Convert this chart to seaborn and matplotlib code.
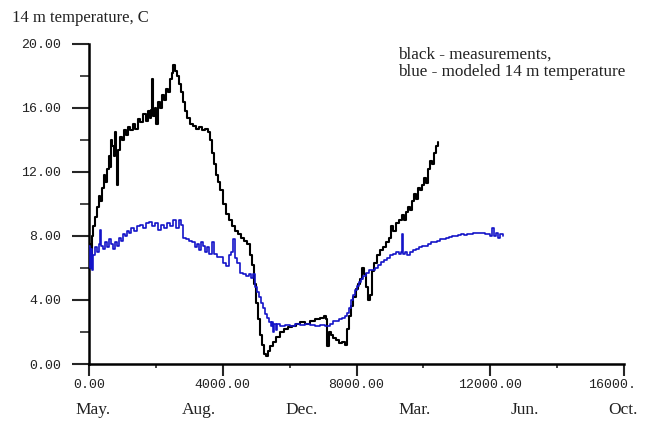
import matplotlib
matplotlib.use("Agg")
import matplotlib.pyplot as plt
from matplotlib.ticker import FixedLocator
from matplotlib.transforms import ScaledTranslation
import seaborn as sns
import pandas as pd

# ---------------- data ----------------
meas_hours = [0, 30, 60, 90, 120, 180, 240, 300, 330, 390, 450, 480, 540, 600, 630, 660, 690,
              750, 780, 810, 840, 870, 930, 990, 1050, 1110, 1170, 1230, 1320, 1380, 1470, 1530,
              1620, 1710, 1770, 1830, 1860, 1890, 1920, 1980, 2010, 2070, 2130, 2190, 2250, 2310,
              2370, 2430, 2490, 2520, 2570, 2630, 2690, 2750, 2810, 2870, 2930, 3020, 3110, 3200,
              3290, 3380, 3470, 3560, 3620, 3680, 3740, 3800, 3860, 3920, 4010, 4100, 4190, 4280,
              4370, 4460, 4550, 4630, 4720, 4810, 4870, 4930, 4990, 5050, 5110, 5170, 5230, 5290,
              5350, 5410, 5500, 5590, 5710, 5830, 5950, 6070, 6190, 6310, 6460, 6610, 6760, 6910,
              7030, 7090, 7120, 7180, 7240, 7300, 7390, 7480, 7570, 7650, 7710, 7770, 7830, 7890,
              7980, 8040, 8100, 8160, 8220, 8280, 8340, 8400, 8460, 8520, 8610, 8700, 8790, 8880,
              8970, 9030, 9090, 9180, 9270, 9360, 9420, 9480, 9540, 9600, 9660, 9720, 9780, 9840,
              9900, 9960, 10020, 10080, 10140, 10200, 10260, 10320, 10380, 10440]
meas_temp = [6.0, 7.5, 6.8, 8.0, 8.6, 9.2, 9.8, 10.5, 10.2, 11.0, 11.8, 11.4, 12.2, 13.0, 12.3, 14.0, 13.6,
             13.0, 14.5, 13.2, 11.2, 13.4, 14.2, 14.0, 14.6, 14.3, 14.8, 14.6, 15.0, 14.7, 15.3, 15.1,
             15.6, 15.2, 15.8, 15.4, 15.9, 17.8, 15.5, 16.0, 15.0, 16.4, 16.0, 16.8, 16.5, 17.2,
             17.0, 17.8, 18.2, 18.7, 18.3, 18.0, 17.5, 17.0, 16.4, 15.8, 15.4, 15.0, 14.9, 14.7,
             14.8, 14.6, 14.7, 14.5, 14.0, 13.2, 12.5, 11.8, 11.4, 10.9, 10.0, 9.4, 9.0, 8.6,
             8.3, 8.1, 7.9, 7.7, 7.5, 6.8, 6.2, 5.0, 3.8, 2.8, 1.8, 1.2, 0.6, 0.5,
             0.8, 1.1, 1.4, 1.7, 2.0, 2.2, 2.3, 2.4, 2.5, 2.6, 2.5, 2.7, 2.8, 2.9,
             3.0, 2.8, 1.1, 2.0, 1.8, 1.6, 1.5, 1.3, 1.4, 1.2, 2.2, 3.0, 3.6, 4.2,
             4.7, 5.0, 5.3, 6.0, 5.6, 4.8, 4.0, 4.3, 5.8, 6.3, 6.8, 7.1, 7.3, 7.6,
             7.9, 8.6, 8.3, 8.8, 9.0, 9.3, 9.0, 9.5, 9.8, 9.6, 10.2, 10.6, 10.3, 11.0,
             10.9, 11.2, 11.6, 11.3, 12.2, 12.7, 12.5, 13.2, 13.6, 13.9]

model_hours = [0, 30, 60, 90, 120, 180, 240, 300, 330, 360, 420, 480, 540, 600, 660, 720, 780, 840,
               900, 960, 1020, 1080, 1140, 1200, 1260, 1350, 1440, 1530, 1620, 1710, 1800, 1890,
               1980, 2070, 2160, 2250, 2340, 2430, 2520, 2610, 2700, 2750, 2810, 2900, 2990, 3080,
               3170, 3230, 3290, 3350, 3410, 3470, 3530, 3590, 3680, 3740, 3830, 3920, 4010, 4100,
               4190, 4250, 4310, 4370, 4430, 4520, 4610, 4700, 4780, 4840, 4900, 4960, 5020, 5080,
               5140, 5200, 5260, 5320, 5380, 5440, 5470, 5500, 5530, 5590, 5620, 5710, 5860, 6010,
               6160, 6310, 6460, 6610, 6760, 6910, 7060, 7210, 7300, 7390, 7480, 7570, 7650, 7710,
               7770, 7830, 7890, 7950, 8010, 8070, 8130, 8190, 8280, 8370, 8460, 8550, 8640, 8730,
               8820, 8910, 9000, 9090, 9180, 9270, 9330, 9360, 9390, 9450, 9510, 9600, 9690, 9780,
               9870, 9960, 10050, 10140, 10230, 10320, 10410, 10500, 10590, 10680, 10770, 10860,
               10950, 11040, 11130, 11220, 11310, 11400, 11480, 11570, 11660, 11750, 11840, 11930,
               11990, 12050, 12110, 12170, 12230, 12290, 12380]
model_temp = [7.4, 6.0, 7.2, 5.9, 6.8, 7.3, 7.0, 7.5, 8.4, 7.4, 7.2, 7.6, 7.3, 7.8, 7.5, 7.2, 7.6, 7.4,
              7.9, 7.7, 8.1, 8.0, 8.3, 8.2, 8.5, 8.3, 8.6, 8.7, 8.5, 8.8, 8.9, 8.6,
              8.8, 8.4, 8.7, 8.5, 8.8, 8.6, 9.0, 8.5, 9.0, 8.7, 7.9, 7.8, 7.7, 7.6,
              7.3, 7.5, 7.1, 7.6, 7.4, 7.0, 7.3, 6.9, 7.6, 6.9, 6.7, 6.7, 6.3, 6.1,
              6.8, 7.0, 7.8, 6.6, 6.3, 5.7, 5.6, 5.5, 5.6, 5.4, 5.6, 4.8, 4.5, 4.2,
              3.8, 3.5, 3.1, 2.9, 2.6, 2.4, 2.6, 2.0, 2.5, 2.1, 2.5, 2.4, 2.45, 2.4,
              2.5, 2.45, 2.5, 2.45, 2.4, 2.45, 2.4, 2.5, 2.7, 2.7, 2.8, 2.9, 3.0, 3.2,
              3.5, 4.0, 4.3, 4.6, 4.9, 5.1, 5.3, 5.5, 5.7, 5.9, 5.9, 6.0, 6.2, 6.4,
              6.5, 6.6, 6.8, 6.9, 7.0, 6.9, 7.0, 8.1, 6.9, 7.0, 6.8, 7.0, 7.1, 7.2,
              7.3, 7.35, 7.4, 7.5, 7.6, 7.6, 7.7, 7.8, 7.8, 7.9, 7.95, 8.0,
              8.0, 8.05, 8.1, 8.05, 8.1, 8.15, 8.2, 8.2, 8.2, 8.2, 8.15, 8.15,
              8.0, 8.5, 8.0, 8.2, 7.9, 8.1, 8.0]

x_ticks = [0, 4000, 8000, 12000, 16000]
x_ticklabels = ["0.00", "4000.00", "8000.00", "12000.00", "16000."]
x_minor = [2000, 6000, 10000, 14000]
y_ticks = [0, 4, 8, 12, 16, 20]
y_ticklabels = ["0.00", "4.00", "8.00", "12.00", "16.00", "20.00"]
y_minor = [2, 6, 10, 14, 18]
month_labels = ["May.", "Aug.", "Dec.", "Mar.", "Jun.", "Oct."]
month_hours = [120, 3290, 6370, 9750, 13040, 15970]

title_text = "14 m temperature, C"
note_text = "black - measurements,\nblue - modeled 14 m temperature"

# ---------------- figure ----------------
sns.set_style("white")
plt.rcParams["font.family"] = ["Liberation Serif", "DejaVu Sans"]

fig = plt.figure(figsize=(6.48, 4.23), dpi=100)
ax = fig.add_axes([89 / 648, (423 - 364) / 423, (624 - 89) / 648, (364 - 44) / 423])

df_meas = pd.DataFrame({"hours": meas_hours, "temp": meas_temp})
df_model = pd.DataFrame({"hours": model_hours, "temp": model_temp})

sns.lineplot(data=df_meas, x="hours", y="temp", ax=ax, color="#000000", linewidth=1.5,
             drawstyle="steps-post", estimator=None, sort=False, zorder=2)
sns.lineplot(data=df_model, x="hours", y="temp", ax=ax, color="#1414c8", linewidth=1.2,
             drawstyle="steps-post", estimator=None, sort=False, zorder=3)

ax.set_xlim(0, 16000)
ax.set_ylim(0, 20)
ax.set_xlabel("")
ax.set_ylabel("")

for s in ["top", "right"]:
    ax.spines[s].set_visible(False)
for s in ["left", "bottom"]:
    ax.spines[s].set_linewidth(1.8)
    ax.spines[s].set_color("black")

ax.xaxis.set_major_locator(FixedLocator(x_ticks))
ax.xaxis.set_minor_locator(FixedLocator(x_minor))
ax.yaxis.set_major_locator(FixedLocator(y_ticks))
ax.yaxis.set_minor_locator(FixedLocator(y_minor))
ax.set_xticklabels(x_ticklabels)
ax.set_yticklabels(y_ticklabels)

for lab in ax.get_xticklabels() + ax.get_yticklabels():
    lab.set_fontfamily("Liberation Mono")
    lab.set_fontsize(9.5)
    lab.set_color("#222222")

ax.tick_params(axis="y", which="major", direction="out", length=12.2, width=1.5, pad=8, left=True)
ax.tick_params(axis="y", which="minor", direction="out", length=6.5, width=1.2, left=True)
ax.tick_params(axis="x", which="major", direction="out", length=8.6, width=1.5, pad=2, bottom=True)
ax.tick_params(axis="x", which="minor", direction="out", length=3, width=1.2, bottom=True)

# shift the truncated last x label as in the picture
last = ax.get_xticklabels()[-1]
last.set_transform(last.get_transform() + ScaledTranslation(-12 / 100, 0, fig.dpi_scale_trans))

# month labels under the axis
for m, h in zip(month_labels, month_hours):
    ax.text(h, -2.85, m, ha="center", va="center", fontsize=12.5, color="#222222",
            transform=ax.transData, clip_on=False)

fig.text(12 / 648, 1 - 10 / 423, title_text, ha="left", va="top", fontsize=12, color="#222222")
fig.text(398 / 648, 1 - 47 / 423, note_text, ha="left", va="top", fontsize=12.3,
         color="#222222", linespacing=1.05)

fig.savefig("out.png", dpi=100)
